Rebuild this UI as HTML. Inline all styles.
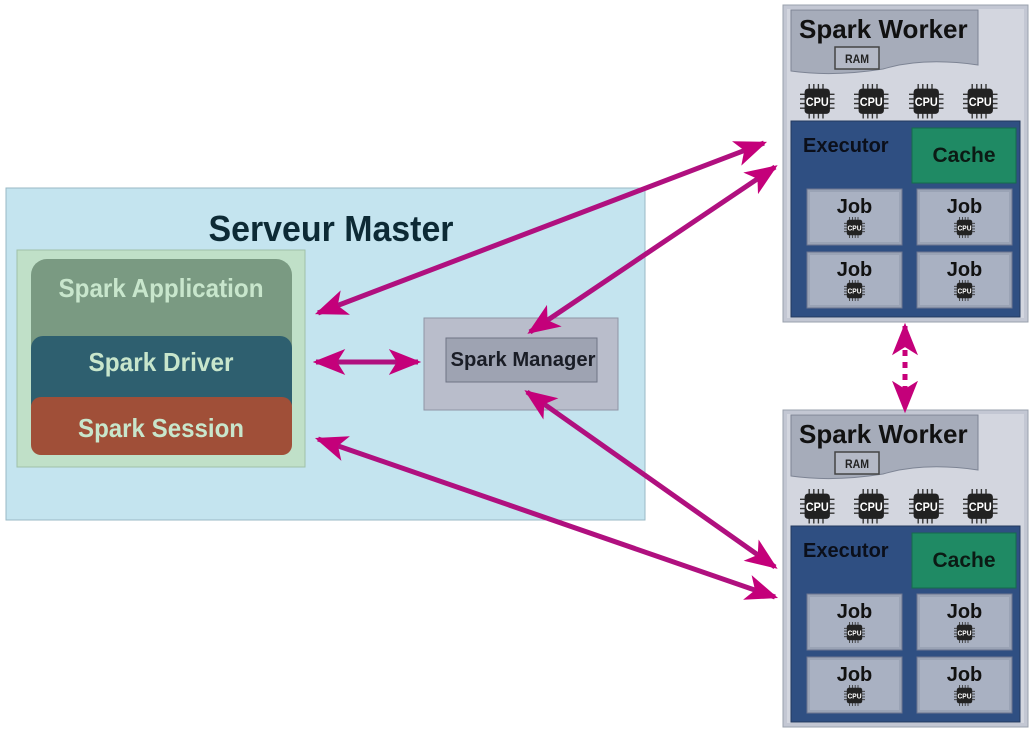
<!DOCTYPE html>
<html><head><meta charset="utf-8"><style>
html,body{margin:0;padding:0;background:#fff;}
svg{display:block;font-family:"Liberation Sans",sans-serif;}
.n{font-weight:bold;}
</style></head><body>
<svg width="1032" height="730" viewBox="0 0 1032 730" xmlns="http://www.w3.org/2000/svg">
<defs>
<marker id="ah" viewBox="0 0 20 16" refX="18" refY="8" markerWidth="6.5" markerHeight="5.4" orient="auto-start-reverse" markerUnits="strokeWidth">
<path d="M0,0 L20,8 L0,16 L5,8 Z" fill="#c4007a"/>
</marker>
<g id="cpu">
<g stroke="#333" stroke-width="1.2">
<line x1="8" y1="0" x2="8" y2="30"/><line x1="12" y1="0" x2="12" y2="30"/><line x1="16" y1="0" x2="16" y2="30"/><line x1="20" y1="0" x2="20" y2="30"/>
<line x1="0" y1="9" x2="30" y2="9"/><line x1="0" y1="13" x2="30" y2="13"/><line x1="0" y1="17" x2="30" y2="17"/><line x1="0" y1="21" x2="30" y2="21"/>
</g>
<rect x="4" y="4" width="22" height="22" rx="3" fill="#222"/>
<text x="15" y="19" font-size="10" fill="#fff" text-anchor="middle" font-weight="bold" textLength="20" lengthAdjust="spacingAndGlyphs">CPU</text>
</g>
<g id="job">
<rect x="0" y="0" width="95" height="56" fill="#9aa3b5" stroke="#6c7690"/>
<rect x="3" y="3" width="89" height="50" fill="#a9b1c2"/>
<text x="47.5" y="24" font-size="20" font-weight="bold" text-anchor="middle" fill="#111">Job</text>
<use href="#cpu" transform="translate(37,28) scale(0.7)"/>
</g>
<g id="worker">
<rect x="0" y="0" width="245" height="317" fill="#c3c7d3" stroke="#9aa0ad"/>
<rect x="4" y="4" width="237" height="309" fill="#d3d6df"/>
<path d="M8,5 H195 V60 Q140,52 100,64 Q50,72 8,66 Z" fill="#a6acba" stroke="#7d8494"/>
<text x="16" y="33" font-size="26" font-weight="bold" fill="#111">Spark Worker</text>
<rect x="52" y="42" width="44" height="22" fill="#b4b9c6" stroke="#444" stroke-width="1.5"/>
<text x="74" y="58" font-size="12" font-weight="bold" text-anchor="middle" fill="#222" textLength="24" lengthAdjust="spacingAndGlyphs">RAM</text>
<use href="#cpu" transform="translate(17,79) scale(1.15)"/>
<use href="#cpu" transform="translate(71,79) scale(1.15)"/>
<use href="#cpu" transform="translate(126,79) scale(1.15)"/>
<use href="#cpu" transform="translate(180,79) scale(1.15)"/>
<rect x="8" y="116" width="229" height="196" fill="#2f4f82" stroke="#23395f"/>
<text x="20" y="147" font-size="20" font-weight="bold" fill="#0b0f1a">Executor</text>
<rect x="129" y="123" width="104" height="55" fill="#1f8a64" stroke="#156b4c"/>
<text x="181" y="157" font-size="21" font-weight="bold" text-anchor="middle" fill="#0b1a14">Cache</text>
<use href="#job" transform="translate(24,184)"/>
<use href="#job" transform="translate(134,184)"/>
<use href="#job" transform="translate(24,247)"/>
<use href="#job" transform="translate(134,247)"/>
</g>
</defs>

<!-- Master -->
<rect x="6" y="188" width="639" height="332" fill="#c4e4ef" stroke="#9ab8c4"/>
<text x="331" y="241" font-size="36" text-anchor="middle" fill="#0d2a35" class="n" textLength="245" lengthAdjust="spacingAndGlyphs">Serveur Master</text>
<rect x="17" y="250" width="288" height="217" fill="#c0e0c8" stroke="#9fc1a8"/>
<rect x="31" y="259" width="261" height="110" rx="16" fill="#7a9a82"/>
<text x="161" y="297" font-size="26" text-anchor="middle" fill="#c8e6cc" class="n" textLength="205" lengthAdjust="spacingAndGlyphs">Spark Application</text>
<rect x="31" y="336" width="261" height="80" rx="12" fill="#2e5f6f"/>
<text x="161" y="371" font-size="26" text-anchor="middle" fill="#c8e6cc" class="n" textLength="145" lengthAdjust="spacingAndGlyphs">Spark Driver</text>
<rect x="31" y="397" width="261" height="58" rx="10" fill="#a04f38"/>
<text x="161" y="437" font-size="26" text-anchor="middle" fill="#c8e6cc" class="n" textLength="166" lengthAdjust="spacingAndGlyphs">Spark Session</text>

<rect x="424" y="318" width="194" height="92" fill="#b9bdcb" stroke="#8f95a5"/>
<rect x="446" y="338" width="151" height="44" fill="#9ea3b2" stroke="#6e7484"/>
<text x="523" y="366" font-size="20" text-anchor="middle" fill="#1a1d26" class="n" textLength="145" lengthAdjust="spacingAndGlyphs">Spark Manager</text>

<!-- Workers -->
<use href="#worker" transform="translate(783,5)"/>
<use href="#worker" transform="translate(783,410)"/>

<!-- Arrows -->
<g stroke="#b0107f" stroke-width="5" fill="none">
<line x1="318" y1="313" x2="764" y2="143" marker-start="url(#ah)" marker-end="url(#ah)"/>
<line x1="530" y1="332" x2="775" y2="167" marker-start="url(#ah)" marker-end="url(#ah)"/>
<line x1="316" y1="362" x2="418" y2="362" marker-start="url(#ah)" marker-end="url(#ah)"/>
<line x1="527" y1="392" x2="775" y2="567" marker-start="url(#ah)" marker-end="url(#ah)"/>
<line x1="318" y1="439" x2="775" y2="597" marker-start="url(#ah)" marker-end="url(#ah)"/>
<line x1="905" y1="326" x2="905" y2="410" stroke="#c8007a" stroke-dasharray="6,6" marker-start="url(#ah)" marker-end="url(#ah)"/>
</g>
</svg>
</body></html>
